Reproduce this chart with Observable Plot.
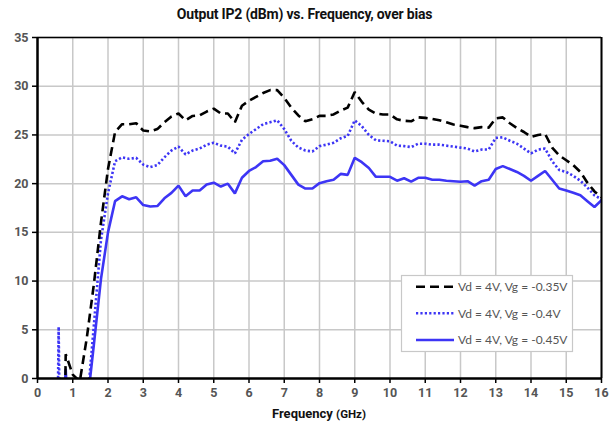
<!DOCTYPE html>
<html><head><meta charset="utf-8">
<script src="https://cdn.jsdelivr.net/npm/d3@7"></script>
<script src="https://cdn.jsdelivr.net/npm/@observablehq/plot@0.6"></script>
<style>
body{margin:0;background:#fff;font-family:Roboto,sans-serif;width:609px;height:426px;overflow:hidden}
#title{height:28px;line-height:29px;text-align:center;font-weight:bold;font-size:14px;color:#111;letter-spacing:-0.2px}
svg{display:block}
</style></head><body>
<div id="title">Output IP2 (dBm) vs. Frequency, over bias</div>
<div id="chart"></div>
<script>
const freq = [0.4,0.6,0.8,1.0,1.2,1.4,1.6,1.8,2.0,2.2,2.4,2.6,2.8,3.0,3.2,3.4,3.6,3.8,4.0,4.2,4.4,4.6,4.8,5.0,5.2,5.4,5.6,5.8,6.0,6.2,6.4,6.6,6.8,7.0,7.2,7.4,7.6,7.8,8.0,8.2,8.4,8.6,8.8,9.0,9.2,9.4,9.6,9.8,10.0,10.2,10.4,10.6,10.8,11.0,11.2,11.4,11.6,11.8,12.0,12.2,12.4,12.6,12.8,13.0,13.2,13.4,13.6,13.8,14.0,14.2,14.4,14.6,14.8,15.0,15.2,15.4,15.6,15.8,16.0];
const ipVg035 = [null,-60,2.5,0.4,-0.3,4.2,9.7,16.0,21.5,25.3,26.1,26.1,26.2,25.45,25.35,25.6,26.3,26.9,27.2,26.5,26.95,27.0,27.4,27.7,27.2,27.2,26.3,28.0,28.5,28.9,29.3,29.6,29.6,28.8,27.8,27.0,26.4,26.6,26.96,26.96,27.1,27.5,27.8,29.4,28.4,27.6,27.2,27.1,27.1,26.6,26.45,26.4,26.8,26.75,26.65,26.5,26.3,26.07,25.95,25.8,25.7,25.8,25.75,26.7,26.8,26.2,25.7,25.3,24.8,25.0,25.1,23.7,22.9,22.4,21.9,21.2,20.1,19.2,18.6];
const ipVg040 = [-60,5.3,-60,-40,-20,-3,5.5,14.2,19.0,22.3,22.7,22.55,22.65,21.95,21.7,21.9,22.7,23.4,23.8,23.0,23.4,23.6,24.0,24.2,23.9,23.8,23.1,24.5,25.1,25.6,26.1,26.3,26.5,25.6,24.4,23.7,23.4,23.3,23.85,24.0,24.2,24.65,24.9,26.5,25.9,25.0,24.45,24.4,24.35,23.9,23.85,23.75,24.1,24.1,24.0,24.0,23.9,23.8,23.7,23.6,23.3,23.5,23.5,24.7,24.75,24.4,24.1,23.6,23.1,23.5,23.6,22.3,21.4,21.2,20.8,20.3,19.6,18.8,18.4];
const ipVg045 = [null,-15,1.0,-15,-40,-3,3.5,10.2,15.0,18.2,18.7,18.4,18.6,17.8,17.65,17.7,18.5,19.05,19.8,18.7,19.3,19.3,19.9,20.1,19.7,20.0,19.0,20.6,21.3,21.7,22.3,22.35,22.55,21.9,20.9,19.9,19.5,19.5,20.05,20.25,20.4,21.0,20.9,22.65,22.2,21.6,20.7,20.7,20.7,20.3,20.55,20.2,20.6,20.6,20.4,20.4,20.3,20.25,20.2,20.25,19.8,20.25,20.4,21.5,21.8,21.5,21.2,20.8,20.3,20.8,21.3,20.4,19.5,19.3,19.06,18.8,18.2,17.6,18.3];
const seriesNames = ["Vd = 4V, Vg = -0.35V","Vd = 4V, Vg = -0.4V","Vd = 4V, Vg = -0.45V"];
const seriesColors = ["#000000","#3d35f5","#3d35f5"];
const seriesDash = ["9,5","2.2,2.2",null];
const xTicks = [0,1,2,3,4,5,6,7,8,9,10,11,12,13,14,15,16];
const yTicks = [0,5,10,15,20,25,30,35];

const seriesValues = [ipVg035, ipVg040, ipVg045];
const tables = seriesValues.map(vals => freq.map((f,i)=>({f, v: vals[i]})));

const lineMarks = tables.map((t,k)=>Plot.line(t,{x:"f",y:"v",stroke:seriesColors[k],strokeWidth:2.6,
  strokeDasharray:seriesDash[k]||undefined,strokeLinecap:"butt",strokeLinejoin:"miter",clip:true}));

const svg = Plot.plot({
  width:609,height:398,
  marginTop:9,marginLeft:37,marginRight:8,marginBottom:48,
  style:{fontFamily:"Roboto, sans-serif",background:"#fff",overflow:"visible"},
  x:{domain:[0,16],ticks:xTicks,label:null},
  y:{domain:[0,35],ticks:yTicks,label:null},
  marks:[
    Plot.gridX(xTicks,{stroke:"#c8c8c8",strokeOpacity:1,strokeWidth:1.5}),
    Plot.gridY(yTicks,{stroke:"#c8c8c8",strokeOpacity:1,strokeWidth:1.5}),
    ...lineMarks.slice().reverse(),
    Plot.ruleX([16],{stroke:"#000",strokeWidth:2}),
    Plot.ruleY([35],{stroke:"#000",strokeWidth:1.5}),
    Plot.ruleX([0],{stroke:"#000",strokeWidth:2.5}),
    Plot.ruleY([0],{stroke:"#000",strokeWidth:2.5}),
    Plot.axisX(xTicks,{tickSize:5,tickPadding:5,fontSize:12.5,fontWeight:"bold",fill:"#555",stroke:"#000",strokeWidth:1.5,label:null}),
    Plot.axisY(yTicks,{tickSize:5,tickPadding:4,fontSize:12.5,fontWeight:"bold",fill:"#555",stroke:"#000",strokeWidth:1.5,label:null})
  ]
});
document.getElementById("chart").appendChild(svg);

const s = d3.select(svg);
// x axis title
const xt = s.append("text").attr("x",319).attr("y",390).attr("text-anchor","middle")
  .attr("font-family","Roboto, sans-serif").attr("font-weight","bold").attr("fill","#111");
xt.append("tspan").attr("font-size","13px").text("Frequency ");
xt.append("tspan").attr("font-size","11.5px").text("(GHz)");

// legend
const lg = s.append("g").attr("text-anchor","start");
lg.append("rect").attr("x",401.5).attr("y",247.5).attr("width",171).attr("height",76)
  .attr("fill","#fff").attr("stroke","#c8c8c8").attr("stroke-width",1.2);
const rowsY = [258.7,285.3,312];
seriesNames.forEach((n,k)=>{
  lg.append("line").attr("x1",416).attr("x2",454).attr("y1",rowsY[k]).attr("y2",rowsY[k])
    .attr("stroke",seriesColors[k]).attr("stroke-width",2.6)
    .attr("stroke-dasharray",seriesDash[k]);
  lg.append("text").attr("x",458).attr("y",rowsY[k]).attr("dy","0.35em").attr("text-anchor","start")
    .attr("font-family","Lato, sans-serif").attr("font-size","12px").attr("fill","#555").text(n);
});
</script>
</body></html>
